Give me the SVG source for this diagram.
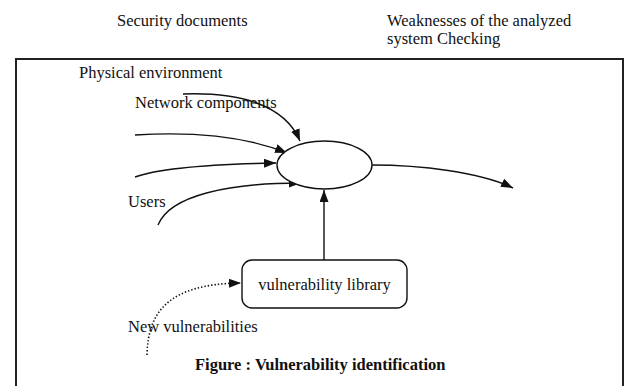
<svg xmlns="http://www.w3.org/2000/svg" width="628" height="386" viewBox="0 0 628 386">
  <style>
    .lbl { font-family: "Liberation Serif", "Times New Roman", serif; font-size: 16.5px; fill: #111; }
    .cap { font-family: "Liberation Serif", "Times New Roman", serif; font-size: 16.5px; font-weight: bold; fill: #111; }
    .edge { fill: none; stroke: #111; stroke-width: 1.4; }
    .dot { fill: none; stroke: #111; stroke-width: 1.6; stroke-dasharray: 1.4 2; }
    .shape { fill: #fff; stroke: #111; stroke-width: 1.4; }
  </style>
  <defs>
    <marker id="arrow" markerUnits="userSpaceOnUse" markerWidth="13" markerHeight="10" refX="12" refY="4.5" orient="auto">
      <path d="M0,0 L12,4.5 L0,9 Z" fill="#111"/>
    </marker>
  </defs>

  <rect width="628" height="386" fill="#fff"/>

  <!-- outer frame, open at the bottom -->
  <path d="M16,392 L16,59 L623,59 L623,392" fill="none" stroke="#222" stroke-width="2"/>

  <!-- headings above the frame -->
  <text class="lbl" x="117" y="26">Security documents</text>
  <text class="lbl" x="387" y="26">Weaknesses of the analyzed</text>
  <text class="lbl" x="387" y="44">system Checking</text>

  <!-- input labels -->
  <text class="lbl" x="79" y="78">Physical environment</text>
  <text class="lbl" x="135" y="108">Network components</text>
  <text class="lbl" x="128" y="207">Users</text>
  <text class="lbl" x="128" y="332">New vulnerabilities</text>

  <g id="connectors">
    <path class="edge" d="M183,94 C240,92 285,105 300,141" marker-end="url(#arrow)"/>
    <path class="edge" d="M135,135 C200,131 250,138 287,153" marker-end="url(#arrow)"/>
    <path class="edge" d="M135,177 C160,168 220,164 276,163" marker-end="url(#arrow)"/>
    <path class="edge" d="M158,225 C170,195 230,183 301,183" marker-end="url(#arrow)"/>
    <path class="edge" d="M372,165 C420,165 480,172 513,188" marker-end="url(#arrow)"/>
    <path class="edge" d="M324,260 L324,190" marker-end="url(#arrow)"/>
    <path class="dot" d="M147,355 C148,312 168,284 241,283" marker-end="url(#arrow)"/>
  </g>

  <g id="process">
    <ellipse class="shape" cx="324.5" cy="165" rx="47.5" ry="24"/>
  </g>

  <g id="vulnerability-library">
    <rect class="shape" x="242" y="260" width="165" height="48" rx="10" ry="10"/>
    <text class="lbl" x="324.5" y="290" text-anchor="middle">vulnerability library</text>
  </g>

  <text class="cap" x="195" y="370">Figure : Vulnerability identification</text>
</svg>
